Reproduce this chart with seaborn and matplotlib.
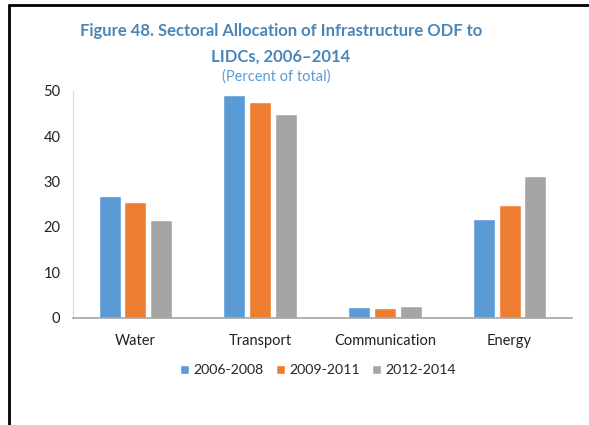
import pandas as pd
import matplotlib.pyplot as plt
import seaborn as sns
from matplotlib.lines import Line2D

sectors = ["Water", "Transport", "Communication", "Energy"]
periods = ["2006-2008", "2009-2011", "2012-2014"]
share_0608 = [26.8, 49.1, 2.4, 21.7]
share_0911 = [25.5, 47.6, 2.1, 24.9]
share_1214 = [21.5, 44.9, 2.6, 31.3]

colors = ["#5B9BD5", "#ED7D31", "#A5A5A5"]

df = pd.DataFrame({
    "sector": sectors * 3,
    "period": [periods[0]] * 4 + [periods[1]] * 4 + [periods[2]] * 4,
    "value": share_0608 + share_0911 + share_1214,
})

sns.set_style("white")
plt.rcParams["font.family"] = ["Lato", "DejaVu Sans"]

fig = plt.figure(figsize=(5.89, 4.25), dpi=100)
ax = fig.add_axes([73 / 589, 1 - 317.5 / 425, 499 / 589, 226.5 / 425])

sns.barplot(data=df, x="sector", y="value", hue="period", palette=colors,
            width=0.62, gap=0.14, ax=ax, saturation=1, errorbar=None)

ax.set_ylim(0, 50)
ax.set_xlim(-0.5, 3.5)
ax.set_yticks([0, 10, 20, 30, 40, 50])
ax.set_xlabel("")
ax.set_ylabel("")
ax.tick_params(axis="y", length=3, color="#d9d9d9", labelsize=10.5, pad=6)
ax.tick_params(axis="x", length=0, labelsize=10.5, pad=12)
for lab in ax.get_xticklabels() + ax.get_yticklabels():
    lab.set_color("#222222")
sns.despine(ax=ax)
ax.spines["left"].set_color("#d9d9d9")
ax.spines["bottom"].set_color("#a6a6a6")
ax.spines["bottom"].set_linewidth(1.2)

ax.legend(loc="center", bbox_to_anchor=((318 - 73) / 499, -(370 - 317.5) / 226.5), ncol=3,
          frameon=False, fontsize=10.2, handlelength=0.6, handleheight=0.6,
          handletextpad=0.3, columnspacing=0.9)

fig.text(281 / 589, 1 - 31 / 425, "Figure 48. Sectoral Allocation of Infrastructure ODF to",
         ha="center", va="center", fontsize=12, fontweight="bold", color="#4A86B8")
fig.text(281 / 589, 1 - 57 / 425, "LIDCs, 2006\u20132014",
         ha="center", va="center", fontsize=12, fontweight="bold", color="#4A86B8")
fig.text(276 / 589, 1 - 77 / 425, "(Percent of total)",
         ha="center", va="center", fontsize=10.5, color="#5B9BD5")

# frame edges visible in the reference (top and left)
fig.add_artist(Line2D([9 / 589, 9 / 589], [0, 1 - 5 / 425], transform=fig.transFigure,
                      color="black", lw=2))
fig.add_artist(Line2D([9 / 589, 1], [1 - 5 / 425, 1 - 5 / 425], transform=fig.transFigure,
                      color="black", lw=2))

fig.savefig("out.png", dpi=100)
